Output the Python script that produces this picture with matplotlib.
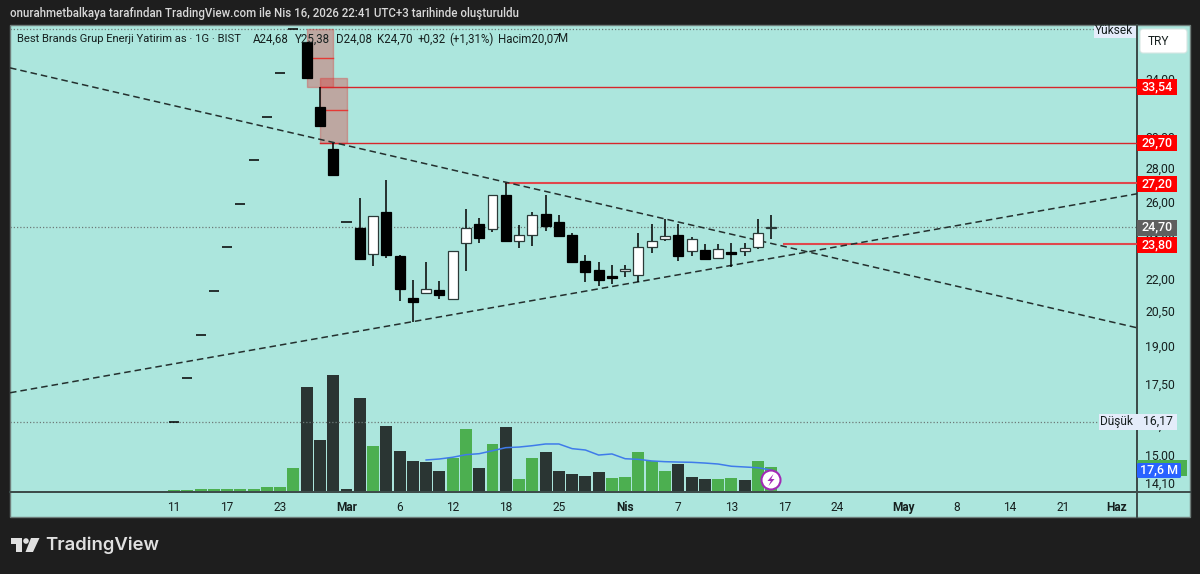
#!/usr/bin/env python3
"""Daily candlestick chart with volume pane, drawn in a TradingView-like layout."""
import matplotlib
matplotlib.use("Agg")
import matplotlib.pyplot as plt
from matplotlib.patches import Circle, FancyBboxPatch, Polygon, Rectangle
from matplotlib.transforms import ScaledTranslation

plt.rcParams["font.family"] = ["Roboto", "DejaVu Sans"]

BG = "#1e1e1e"
PANE = "#ace6dd"
SEP = "#3d4c4a"
INK = "#16201f"
RED = "#ff0000"
GREEN = "#4caf50"
DARK_VOL = "#2a3533"

# ── OHLC per bar (price in TRY) ──
OPENS = [16.17, 17.79, 19.54, 21.51, 23.67, 25.99, 28.61, 31.42, 34.58, 38.06,
         37.00, 32.11, 29.30, 24.99, 24.65, 23.31, 25.54, 23.21, 21.18, 21.41,
         21.55, 21.13, 23.88, 24.88, 24.59, 26.51, 23.98, 24.30, 25.43, 24.99,
         24.30, 22.96, 22.51, 22.22, 22.46, 22.27, 23.67, 24.09, 24.30, 23.46,
         23.51, 23.11, 23.41, 23.46, 23.67, 24.68]
HIGHS = [16.17, 17.79, 19.54, 21.51, 23.67, 25.99, 28.61, 31.42, 34.58, 38.06,
         37.00, 33.54, 29.70, 24.99, 26.34, 25.32, 27.39, 23.26, 22.03, 22.91,
         21.98, 23.46, 25.71, 25.21, 26.51, 27.20, 24.83, 25.54, 26.51, 25.38,
         24.40, 23.26, 22.91, 22.76, 22.76, 24.40, 24.88, 25.16, 24.88, 24.19,
         23.82, 23.82, 23.88, 23.88, 25.16, 25.38]
LOWS = [16.17, 17.79, 19.54, 21.51, 23.67, 25.99, 28.61, 31.42, 34.58, 38.06,
        34.20, 30.81, 27.69, 24.99, 23.01, 22.71, 23.11, 21.04, 20.10, 21.37,
        21.13, 21.13, 22.46, 23.88, 24.45, 23.93, 23.62, 23.72, 24.51, 24.19,
        22.86, 21.93, 21.74, 21.83, 22.17, 21.93, 23.36, 23.98, 22.96, 23.21,
        23.06, 23.06, 22.66, 23.21, 23.57, 24.08]
CLOSES = [16.17, 17.79, 19.54, 21.51, 23.67, 25.99, 28.61, 31.42, 34.58, 38.06,
          34.20, 30.81, 27.69, 24.99, 23.06, 25.32, 23.26, 21.60, 21.00, 21.60,
          21.32, 23.46, 24.65, 24.14, 26.51, 23.98, 24.30, 25.38, 24.78, 24.24,
          22.91, 22.41, 22.03, 22.12, 22.56, 23.67, 23.98, 24.24, 23.21, 24.09,
          23.06, 23.57, 23.31, 23.62, 24.40, 24.70]

# ── Volume in millions, plus its moving average from bar 19 on ──
VOLUMES = [1.2, 1.2, 1.8, 1.8, 1.8, 1.8, 2.2, 3.8, 3.8, 19.3,
           85.1, 42.0, 94.9, 2.2, 76.2, 37.2, 53.4, 33.1, 25.0, 24.1,
           16.8, 27.4, 51.0, 19.3, 38.8, 52.6, 10.3, 27.4, 32.3, 16.8,
           14.4, 12.8, 16.0, 11.1, 12.0, 32.3, 25.0, 16.8, 22.5, 12.0,
           10.3, 10.3, 11.1, 9.5, 25.0, 20.07]
VOL_UP = [1, 1, 1, 1, 1, 1, 1, 1, 1, 1,
          0, 0, 0, 0, 0, 1, 0, 0, 0, 0,
          0, 1, 1, 0, 1, 0, 1, 1, 0, 0,
          0, 0, 0, 1, 1, 1, 1, 1, 0, 0,
          0, 1, 1, 0, 1, 1]
VOL_MA_START = 19
VOL_MA = [25.8, 26.6, 28.0, 30.1, 30.9, 33.3, 35.8, 36.3, 37.4, 38.8,
          38.8, 35.0, 33.9, 29.8, 30.7, 26.8, 26.3, 25.0, 24.4, 24.1,
          23.9, 23.3, 22.5, 20.7, 20.1, 19.5, 17.6]

# ── Axis ticks ──
X_TICKS = [0, 4, 8, 13, 17, 21, 25, 29, 34, 38, 42, 46, 50, 55, 59, 63, 67, 71]
X_LABELS = ["11", "17", "23", "Mar", "6", "12", "18", "25", "Nis", "7", "13", "17",
            "24", "May", "8", "14", "21", "Haz"]
X_BOLD = ["Mar", "Nis", "May", "Haz"]
Y_TICKS = [34, 30, 28, 26, 24, 22, 20.5, 19, 17.5, 16, 15, 14.1]
Y_LABELS = ["34,00", "30,00", "28,00", "26,00", "24,00", "22,00", "20,50", "19,00",
            "17,50", "16,00", "15,00", "14,10"]

# ── Drawings: (start bar, level) for rays, (bar0, price0, bar1, price1) for trends ──
RAYS_THIN = [(11, 33.54), (11, 29.70)]
RAYS_THICK = [(25, 27.20), (46, 23.80)]
TREND_DOWN = (-12.36, 34.96, 72.57, 19.84)
TREND_UP = (-12.36, 17.22, 72.57, 26.57)
ZONES = [(10, 12, 33.54, 38.06), (11, 13, 29.70, 34.20)]
HIGH_PRICE = 38.06
LOW_PRICE = 16.17
LAST_PRICE = 24.70

XLIM = (-12.36, 72.57)
YLIM = (13.88, 38.3)
VOL_TOP = 378.6


def draw_candles(ax):
    for i, (o, h, l, c) in enumerate(zip(OPENS, HIGHS, LOWS, CLOSES)):
        up = c >= o
        if o == c == h == l:
            # flat bars with no traded range show up as a short dash
            ax.hlines(o, i - 0.38, i + 0.38, color="#000000", lw=1.1, zorder=5)
            continue
        ax.vlines(i, l, h, color="#000000", lw=1.1, zorder=4)
        lo, hi = min(o, c), max(o, c)
        ax.bar(i, hi - lo, bottom=lo, width=0.75, zorder=5,
               color="#ffffff" if up else "#000000",
               edgecolor="#2b3a38" if up else "#000000", linewidth=0.9)


def draw_drawings(ax):
    for x0, x1, lo, hi in ZONES:
        ax.add_patch(Rectangle((x0, lo), x1 - x0, hi - lo, facecolor="#e02828", alpha=0.33,
                               edgecolor="#e02828", linewidth=1.0, zorder=3))
        mid = (lo * hi) ** 0.5
        ax.plot([x0, x1], [mid, mid], color="#e53935", lw=1.0, zorder=3)
    for x0, level in RAYS_THIN:
        ax.plot([x0, XLIM[1]], [level, level], color="#d7262b", lw=1.0, zorder=3)
    for x0, level in RAYS_THICK:
        ax.plot([x0, XLIM[1]], [level, level], color="#e0474c", lw=1.5, zorder=3)
    for x0, p0, x1, p1 in (TREND_DOWN, TREND_UP):
        ax.plot([x0, x1], [p0, p1], color="#24302e", lw=1.1, dashes=(4.3, 2.6), zorder=3)
    for level, x1 in ((HIGH_PRICE, 69.3), (LAST_PRICE, XLIM[1]), (LOW_PRICE, 69.7)):
        ax.plot([XLIM[0], x1], [level, level], color="#6d7b79", lw=0.9, dashes=(1, 1.6), zorder=2)


def badge(ui, x, y, w, h, color, text, txt_color="#ffffff", **kw):
    ui.add_patch(Rectangle((x, y), w, h, facecolor=color, edgecolor="none", zorder=3))
    ui.text(x + w / 2, y + h / 2 - 0.5, text, color=txt_color, ha="center", va="center",
            fontsize=9, fontweight="medium", zorder=4, **kw)


def draw_ui(ui):
    ui.text(10, 13, "onurahmetbalkaya tarafından TradingView.com ile Nis 16, 2026 22:41 "
            "UTC+3 tarihinde oluşturuldu", color="#d8d8d8", fontsize=8.3, va="center",
            fontweight="medium")

    ui.text(17, 39, "Best Brands Grup Enerji Yatirim as · 1G · BIST", color=INK,
            fontsize=8.1, va="center")
    for x, s in [(253, "A24,68"), (295, "Y25,38"), (336, "D24,08"), (377, "K24,70"),
                 (418, "+0,32"), (449, "(+1,31%)"), (498, "Hacim20,07"), (558, "M")]:
        ui.text(x, 39, s, color=INK, fontsize=8.3, va="center")

    # price scale badges
    for level_y, label in [(87, "33,54"), (143, "29,70"), (184, "27,20"), (245, "23,80")]:
        badge(ui, 1137, level_y - 8, 40, 16, RED, label)
    badge(ui, 1137, 219.5, 40, 16, "#5f5f5f", "24,70")
    badge(ui, 1137, 460, 50, 16, GREEN, "")
    ui.add_patch(FancyBboxPatch((1137, 463), 44, 15, boxstyle="round,pad=0,rounding_size=1.5",
                                facecolor="#2962ff", edgecolor="none", zorder=5))
    ui.text(1159, 470, "17,6 M", color="#ffffff", ha="center", va="center", fontsize=9,
            fontweight="medium", zorder=6)

    ui.add_patch(Rectangle((1094, 25.5), 42, 12, facecolor="#e4ecfa", edgecolor="none", zorder=3))
    ui.text(1133, 30.5, "Yüksek", color=INK, ha="right", va="center", fontsize=8.6, zorder=4)
    ui.add_patch(Rectangle((1099, 414), 78, 16, facecolor="#e4ecfa", edgecolor="none", zorder=3))
    ui.text(1133, 421.5, "Düşük", color=INK, ha="right", va="center", fontsize=8.6, zorder=4)
    ui.text(1158, 421.5, "16,17", color=INK, ha="center", va="center", fontsize=8.8, zorder=4)

    ui.add_patch(FancyBboxPatch((1140, 29), 47, 24, boxstyle="round,pad=0,rounding_size=3",
                                facecolor="#ffffff", edgecolor="#d6e6e3", linewidth=0.8, zorder=3))
    ui.text(1158, 41.5, "TRY", color=INK, ha="center", va="center", fontsize=8.6, zorder=4)

    # bolt marker on the last volume bar
    ui.add_patch(Circle((771, 480), 9.5, facecolor="#ffffff", edgecolor="#a12bb5", linewidth=1.5, zorder=6))
    ui.add_patch(Polygon([(773.5, 474), (767.5, 481), (770.8, 481), (768.5, 486), (774.5, 479),
                          (771.2, 479)], closed=True, facecolor="#a12bb5", edgecolor="none", zorder=7))

    # footer logo
    logo = "#e0e0e0"
    ui.add_patch(Polygon([(11, 538), (22, 538), (22, 552), (16, 552), (16, 544), (11, 544)],
                         closed=True, facecolor=logo, edgecolor="none"))
    ui.add_patch(Circle((26, 541), 2.8, facecolor=logo, edgecolor="none"))
    ui.add_patch(Polygon([(31, 538), (39.5, 538), (33, 552), (25.5, 552)], closed=True,
                         facecolor=logo, edgecolor="none"))
    ui.text(45.5, 545.5, "TradingView", color=logo, fontsize=13.3, fontweight="semibold",
            family=["Inter", "DejaVu Sans"], va="center")


def main():
    fig = plt.figure(figsize=(12, 5.74), dpi=100, facecolor=BG)
    W, H = 1200.0, 574.0

    # pane backdrop, price strip and time strip
    bg = fig.add_axes([0, 0, 1, 1], zorder=0)
    bg.set_xlim(0, W); bg.set_ylim(H, 0); bg.axis("off")
    bg.add_patch(Rectangle((10, 25), 1180, 492, facecolor=PANE, edgecolor="#6f7d7a", linewidth=1.0))

    rect = [10 / W, (H - 491.7) / H, 1127 / W, 465.7 / H]
    ax_vol = fig.add_axes(rect, zorder=1)
    ax_vol.patch.set_visible(False)
    ax_vol.set_xlim(*XLIM); ax_vol.set_ylim(0, VOL_TOP)
    ax_vol.axis("off")
    colors = [GREEN if u else DARK_VOL for u in VOL_UP]
    ax_vol.bar(range(len(VOLUMES)), VOLUMES, width=0.9, color=colors, linewidth=0)
    ax_vol.plot(range(VOL_MA_START, VOL_MA_START + len(VOL_MA)), VOL_MA, color="#3f7bea", lw=1.1, zorder=3)

    ax = fig.add_axes(rect, zorder=2)
    ax.patch.set_visible(False)
    ax.set_yscale("log")
    ax.set_xlim(*XLIM); ax.set_ylim(*YLIM)
    for s in ("top", "left"):
        ax.spines[s].set_visible(False)
    for s in ("right", "bottom"):
        ax.spines[s].set_color(SEP); ax.spines[s].set_linewidth(1.4)
    ax.yaxis.tick_right()
    ax.set_yticks(Y_TICKS, Y_LABELS, fontsize=8.8, color=INK)
    ax.minorticks_off()
    ax.tick_params(axis="y", which="both", length=0, pad=5.8)
    # scale labels sit a touch above their gridline position
    nudge = ScaledTranslation(0, 1.2 / 72, fig.dpi_scale_trans)
    for t in ax.get_yticklabels():
        t.set_transform(t.get_transform() + nudge)
    ax.set_xticks(X_TICKS, X_LABELS, fontsize=8.6, color=INK)
    ax.tick_params(axis="x", length=0, pad=6.5)
    for t in ax.get_xticklabels():
        if t.get_text() in X_BOLD:
            t.set_fontweight("bold")

    draw_candles(ax)
    draw_drawings(ax)

    # separators run on through the strips
    bg.plot([1137, 1137], [25, 517], color=SEP, lw=1.4)
    bg.plot([10, 1190], [491.7, 491.7], color=SEP, lw=1.4)

    ui = fig.add_axes([0, 0, 1, 1], zorder=5)
    ui.set_xlim(0, W); ui.set_ylim(H, 0); ui.axis("off")
    draw_ui(ui)

    fig.savefig("out.png", dpi=100, facecolor=BG)
    plt.close(fig)


if __name__ == "__main__":
    main()
